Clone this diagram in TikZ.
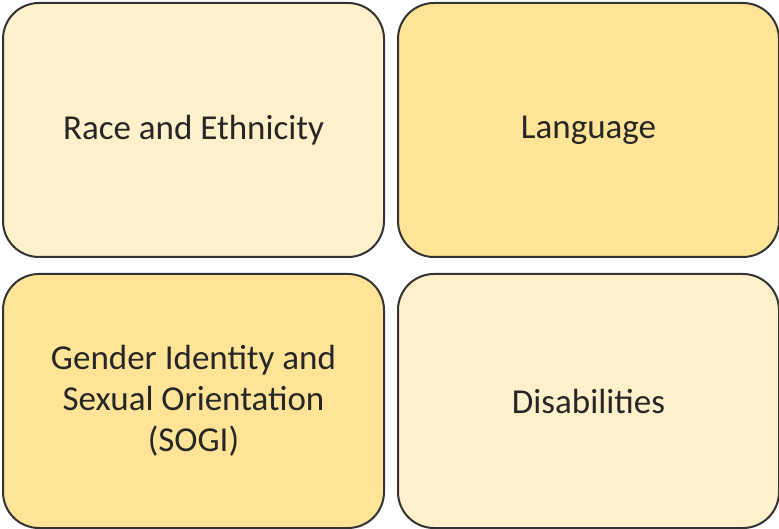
\documentclass[tikz,border=0pt]{standalone}
\usepackage{fontspec}
\setmainfont{Carlito}
\definecolor{lightfill}{HTML}{FFF0CC}
\definecolor{darkfill}{HTML}{FFE497}
\definecolor{edgecol}{HTML}{333333}
\begin{document}
\begin{tikzpicture}[x=1pt,y=-1pt,
  tile/.style={draw=edgecol, line width=2pt, rounded corners=36pt, minimum width=381pt, minimum height=254pt, inner sep=0pt, text=black!85, font=\fontsize{35pt}{41pt}\selectfont, align=center, anchor=north west}]
\useasboundingbox (0,0) rectangle (779,529);
\node[tile, fill=lightfill] (race) at (2,2) {Race and Ethnicity};
\node[tile, fill=darkfill] (lang) at (397,2) {Language};
\node[tile, fill=darkfill] (sogi) at (2,273) {Gender Identity and\\Sexual Orientation\\(SOGI)};
\node[tile, fill=lightfill] (dis) at (397,273) {Disabilities};
\end{tikzpicture}
\end{document}
